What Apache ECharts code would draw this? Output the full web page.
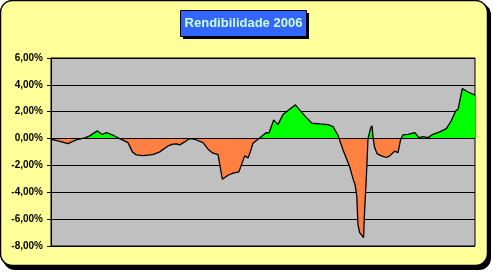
<!DOCTYPE html>
<html>
<head>
<meta charset="utf-8">
<script src="https://cdn.jsdelivr.net/npm/echarts@6/dist/echarts.min.js"></script>
<style>
html,body{margin:0;padding:0;background:#ffffff;}
#chart{width:493px;height:272px;}
</style>
</head>
<body>
<div id="chart"></div>
<script>
// Trading-day position (0..250) of each read point
const days = [0, 4.1, 10.0, 14.9, 19.9, 22.8, 27.3, 30.3, 32.6, 36.6, 40.5, 45.4, 48.0, 50.3, 54.2, 60.1, 64.1, 69.0, 71.9, 73.9, 75.9, 78.8, 81.8, 84.7, 89.6, 92.6, 95.5, 98.5, 101.0, 104.4, 107.3, 110.8, 114.2, 116.2, 117.5, 119.1, 122.1, 125.0, 127.0, 128.5, 131.3, 133.8, 136.8, 140.7, 144.1, 147.6, 150.6, 153.9, 158.4, 163.3, 166.3, 167.3, 169.2, 172.2, 176.1, 178.1, 179.4, 180.3, 181.0, 182.0, 184.3, 184.9, 185.9, 186.9, 188.5, 189.3, 189.9, 190.8, 192.2, 194.8, 197.7, 199.7, 202.6, 204.6, 206.2, 207.5, 210.5, 214.4, 217.0, 219.3, 222.3, 225.2, 229.2, 233.1, 236.0, 238.6, 240.0, 242.5, 245.9, 250.0];
// Cumulative return in %
const returns = [-0.05, -0.17, -0.37, -0.10, 0.05, 0.20, 0.57, 0.30, 0.45, 0.25, 0.00, -0.30, -0.99, -1.22, -1.27, -1.19, -0.99, -0.55, -0.42, -0.40, -0.47, -0.25, 0.00, -0.05, -0.30, -0.79, -1.09, -1.19, -3.03, -2.73, -2.58, -2.48, -1.29, -1.44, -0.99, -0.35, -0.05, 0.25, 0.45, 0.40, 1.39, 1.04, 1.79, 2.18, 2.51, 1.99, 1.56, 1.14, 1.09, 1.04, 0.89, 0.89, 0.25, -0.85, -2.10, -3.00, -3.50, -4.30, -6.40, -7.00, -7.37, -5.40, -3.00, 0.00, 0.80, 0.95, 0.05, -0.65, -1.12, -1.29, -1.41, -1.29, -0.94, -1.04, -0.05, 0.27, 0.32, 0.45, 0.07, 0.15, 0.07, 0.32, 0.50, 0.74, 1.32, 2.06, 2.18, 3.72, 3.47, 3.23];
const yTicks = [-8, -6, -4, -2, 0, 2, 4, 6];
const titleText = 'Rendibilidade 2006';

const chart = echarts.init(document.getElementById('chart'), null, {renderer: 'canvas'});
const seriesData = days.map((d, i) => [d, returns[i]]);

// Hard colour switch at zero, placed relative to the area's own bounding box
const maxV = Math.max(0, ...returns);
const minV = Math.min(0, ...returns);
const zeroStop = maxV / (maxV - minV);
const areaGradient = new echarts.graphic.LinearGradient(0, 0, 0, 1, [
  {offset: 0, color: '#00FF00'},
  {offset: zeroStop, color: '#00FF00'},
  {offset: zeroStop, color: '#FF8040'},
  {offset: 1, color: '#FF8040'}
]);

chart.setOption({
  animation: false,
  backgroundColor: '#ffffff',
  graphic: [
    {type: 'rect', z: -10, shape: {x: 3, y: 3, width: 488, height: 267, r: 12}, style: {fill: '#000000'}},
    {type: 'rect', z: -9, shape: {x: 0.5, y: 0.5, width: 487, height: 265, r: 12}, style: {fill: '#FFFF99', stroke: '#000000', lineWidth: 1.5}},
    {type: 'rect', z: 10, shape: {x: 183, y: 13, width: 126, height: 26}, style: {fill: '#000000'}},
    {type: 'rect', z: 11, shape: {x: 180.5, y: 10.5, width: 126, height: 26}, style: {fill: '#3366FF', stroke: '#000000', lineWidth: 1}},
    {type: 'text', z: 12, x: 243.5, y: 23.5, style: {text: titleText, fill: '#CCFFCC', font: 'bold 13px Arial, "Liberation Sans", sans-serif', align: 'center', verticalAlign: 'middle'}}
  ],
  grid: {
    left: 51, right: 18, top: 58, bottom: 26,
    show: true, backgroundColor: '#C0C0C0', borderColor: '#000000', borderWidth: 1
  },
  xAxis: {
    type: 'value', min: 0, max: 250, show: false
  },
  yAxis: {
    type: 'value', min: -8, max: 6, interval: 2,
    axisLine: {show: true, lineStyle: {color: '#000000', width: 1}},
    axisTick: {show: true, inside: false, length: 4, lineStyle: {color: '#000000'}},
    splitLine: {show: true, lineStyle: {color: '#000000', width: 1}},
    axisLabel: {
      margin: 8, color: '#000000',
      fontFamily: 'Arial, sans-serif', fontSize: 10, fontWeight: 'bold',
      formatter: v => yTicks.includes(v) ? v.toFixed(2).replace('.', ',') + '%' : ''
    }
  },
  series: [{
    type: 'line',
    data: seriesData,
    symbol: 'none',
    lineStyle: {color: '#000000', width: 1.3},
    areaStyle: {opacity: 1, origin: 0, color: areaGradient},
    markLine: {
      silent: true, symbol: 'none', label: {show: false},
      lineStyle: {color: '#000000', width: 1, type: 'solid'},
      data: [{yAxis: 0}]
    },
    z: 3
  }]
});
</script>
</body>
</html>
